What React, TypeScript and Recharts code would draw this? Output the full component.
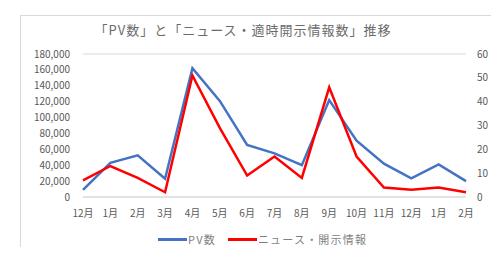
import React from 'react'
import { LineChart, Line, XAxis, YAxis, CartesianGrid } from 'recharts'

const months = ['12月', '1月', '2月', '3月', '4月', '5月', '6月', '7月', '8月', '9月', '10月', '11月', '12月', '1月', '2月']
const pvCounts = [9000, 43000, 52500, 23000, 162000, 121000, 65500, 55000, 40000, 122000, 71000, 42000, 23500, 41000, 20000]
const newsCounts = [7, 13, 8, 2, 51, 29, 9, 17, 8, 46, 17, 4, 3, 4, 2]
const leftTicks = [0, 20000, 40000, 60000, 80000, 100000, 120000, 140000, 160000, 180000]
const rightTicks = [0, 10, 20, 30, 40, 50, 60]

const data = months.map((m, i) => ({ month: m, pv: pvCounts[i], news: newsCounts[i] }))

const FONT = '"Noto Sans CJK JP", "Noto Sans", sans-serif'
const TEXT = '#595959'

const legendItems = [
  { label: 'PV数', color: '#4472C4' },
  { label: 'ニュース・開示情報', color: '#FF0000' },
]

export default function App() {
  return (
    <div style={{ position: 'relative', width: 499, height: 255, margin: -8, overflow: 'hidden', background: '#fff' }}>
      <div style={{ position: 'absolute', left: 20, top: 15, width: 600, height: 400, border: '1px solid #d9d9d9' }} />
      <div
        style={{
          position: 'absolute', left: 0, top: 20, width: 486, textAlign: 'center',
          fontFamily: FONT, fontSize: 13, letterSpacing: 1, color: '#6b6b6b',
        }}
      >
        「PV数」と「ニュース・適時開示情報数」推移
      </div>
      <div style={{ position: 'absolute', left: 0, top: 0 }}>
        <LineChart width={499} height={255} data={data} margin={{ top: 54, right: 0, bottom: 0, left: 0 }}>
          <CartesianGrid vertical={false} stroke="#d9d9d9" />
          <XAxis
            dataKey="month"
            interval={0}
            height={58}
            tickLine={false}
            axisLine={{ stroke: '#d9d9d9' }}
            tickSize={0}
            tickMargin={13}
            tick={{ fontSize: 10, fill: TEXT, fontFamily: FONT }}
          />
          <YAxis
            yAxisId="left"
            width={83}
            domain={[0, 180000]}
            ticks={leftTicks}
            interval={0}
            tickFormatter={(v: number) => v.toLocaleString('en-US')}
            tickLine={false}
            axisLine={false}
            tickSize={0}
            tickMargin={13}
            tick={{ fontSize: 10, fill: TEXT, fontFamily: FONT }}
          />
          <YAxis
            yAxisId="right"
            orientation="right"
            width={33}
            domain={[0, 60]}
            ticks={rightTicks}
            interval={0}
            tickLine={false}
            axisLine={false}
            tickSize={0}
            tickMargin={11}
            tick={{ fontSize: 10, fill: TEXT, fontFamily: FONT, textAnchor: 'start' }}
          />
          <Line yAxisId="left" dataKey="pv" stroke="#4472C4" strokeWidth={2.5} dot={false} isAnimationActive={false} />
          <Line yAxisId="right" dataKey="news" stroke="#FF0000" strokeWidth={2.5} dot={false} isAnimationActive={false} />
        </LineChart>
      </div>
      <div
        style={{
          position: 'absolute', left: 158, top: 231, display: 'flex', gap: 12,
          fontFamily: FONT, fontSize: 11, letterSpacing: 1.2, color: '#7f7f7f',
        }}
      >
        {legendItems.map((it) => (
          <div key={it.label} style={{ display: 'flex', alignItems: 'center' }}>
            <span style={{ display: 'inline-block', width: 29, height: 3, background: it.color, marginRight: 1 }} />
            <span>{it.label}</span>
          </div>
        ))}
      </div>
    </div>
  )
}
